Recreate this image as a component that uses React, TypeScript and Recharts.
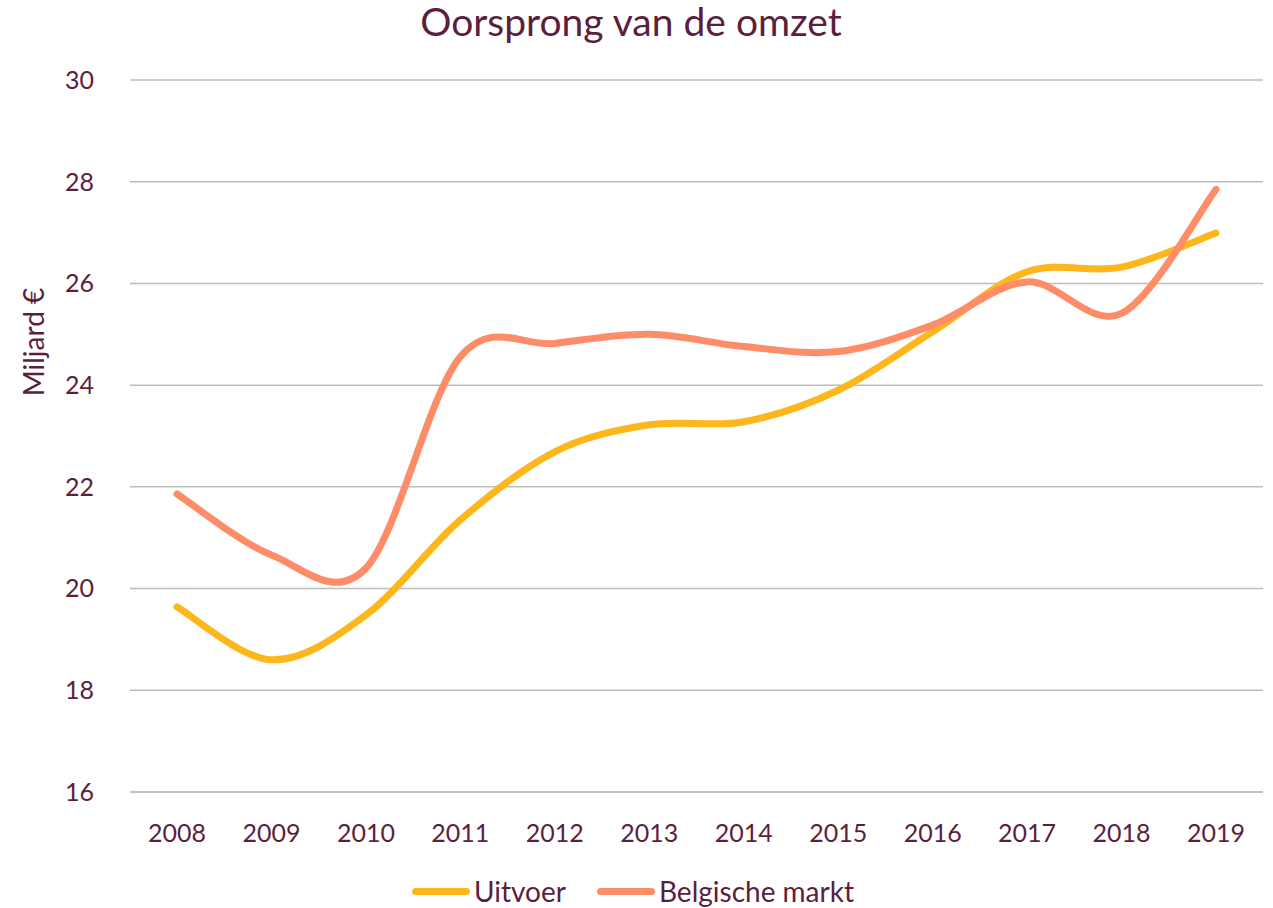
import React from 'react';
import { LineChart, Line, XAxis, YAxis, CartesianGrid } from 'recharts';

const years = ['2008', '2009', '2010', '2011', '2012', '2013', '2014', '2015', '2016', '2017', '2018', '2019'];
const uitvoer = [19.64, 18.6, 19.48, 21.35, 22.69, 23.22, 23.28, 23.9, 25.05, 26.23, 26.32, 26.99];
const belgischeMarkt = [21.86, 20.66, 20.4, 24.56, 24.82, 25.0, 24.76, 24.66, 25.18, 26.03, 25.41, 27.85];
const yTicks = [16, 18, 20, 22, 24, 26, 28, 30];

const data = years.map((year, i) => ({ year, uitvoer: uitvoer[i], belgisch: belgischeMarkt[i] }));

const TEXT = '#5b1f3d';
const YELLOW = '#fdb71c';
const SALMON = '#ff8c69';
const GRID = '#bdbdbd';
const FONT = 'Lato, "Noto Sans", sans-serif';

// Excel-style smoothed line (Catmull-Rom as cubic Bezier)
const smooth = (context: any) => {
  let pts: number[][] = [];
  return {
    areaStart() {},
    areaEnd() {},
    lineStart() { pts = []; },
    point(x: number, y: number) { pts.push([+x, +y]); },
    lineEnd() {
      if (!pts.length) return;
      context.moveTo(pts[0][0], pts[0][1]);
      for (let i = 0; i < pts.length - 1; i++) {
        const p0 = pts[Math.max(i - 1, 0)];
        const p1 = pts[i];
        const p2 = pts[i + 1];
        const p3 = pts[Math.min(i + 2, pts.length - 1)];
        context.bezierCurveTo(
          p1[0] + (p2[0] - p0[0]) / 6, p1[1] + (p2[1] - p0[1]) / 6,
          p2[0] - (p3[0] - p1[0]) / 6, p2[1] - (p3[1] - p1[1]) / 6,
          p2[0], p2[1]
        );
      }
    },
  };
};

const YLabel = () => (
  <text x={33} y={342} transform="rotate(-90 33 342)" textAnchor="middle" dominantBaseline="central"
    fill={TEXT} fontSize={28} fontFamily={FONT}>Miljard €</text>
);

const legendItems = [
  { name: 'Uitvoer', color: YELLOW },
  { name: 'Belgische markt', color: SALMON },
];

export default function App() {
  return (
    <div style={{ position: 'relative', width: 1273, height: 908, fontFamily: FONT }}>
      <style>{'body{margin:0}'}</style>
      <div style={{ position: 'absolute', top: -2, left: 0, width: 1262, textAlign: 'center', fontSize: 39, lineHeight: '46px', color: TEXT }}>
        Oorsprong van de omzet
      </div>
      <LineChart width={1273} height={908} data={data} margin={{ top: 80, right: 10, bottom: 86, left: 0 }}>
        <CartesianGrid vertical={false} stroke={GRID} strokeWidth={1.5} />
        <XAxis dataKey="year" padding={{ left: 47, right: 47 }} axisLine={{ stroke: GRID, strokeWidth: 1.5 }}
          tickLine={false} tickSize={0} tickMargin={32} interval={0}
          tick={{ fill: TEXT, fontSize: 25, fontFamily: FONT }} />
        <YAxis width={130} domain={[16, 30]} ticks={yTicks} axisLine={false} tickLine={false}
          tickSize={0} tickMargin={36} tick={{ fill: TEXT, fontSize: 25, fontFamily: FONT }}
          label={<YLabel />} />
        <Line dataKey="uitvoer" name="Uitvoer" type={smooth as any} stroke={YELLOW} strokeWidth={7}
          strokeLinecap="round" dot={false} activeDot={false} isAnimationActive={false} />
        <Line dataKey="belgisch" name="Belgische markt" type={smooth as any} stroke={SALMON} strokeWidth={7}
          strokeLinecap="round" dot={false} activeDot={false} isAnimationActive={false} />
      </LineChart>
      <div style={{ position: 'absolute', top: 872, left: 0, width: 1266, display: 'flex', justifyContent: 'center', gap: 31, fontSize: 28, color: TEXT, lineHeight: '38px' }}>
        {legendItems.map((it) => (
          <div key={it.name} style={{ display: 'flex', alignItems: 'center', gap: 4 }}>
            <span style={{ display: 'inline-block', width: 58, height: 7, borderRadius: 4, background: it.color }} />
            <span>{it.name}</span>
          </div>
        ))}
      </div>
    </div>
  );
}
